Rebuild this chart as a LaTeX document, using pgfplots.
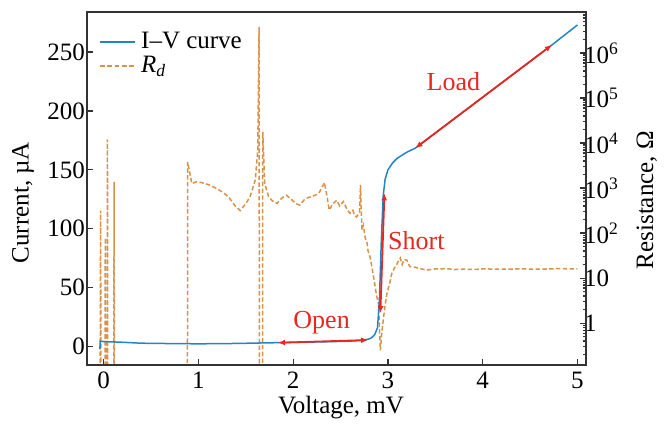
\documentclass[border=0pt]{standalone}
\usepackage{pgfplots}
\pgfplotsset{compat=1.18}
\usepackage{fontspec}
\setmainfont{Liberation Serif}
\usetikzlibrary{arrows.meta}

\definecolor{ivblue}{RGB}{35,132,198}
\definecolor{rdorange}{RGB}{216,146,74}
\definecolor{annred}{RGB}{232,40,30}

\pgfplotsset{
  every axis/.append style={
    scale only axis, width=249.5pt, height=176.5pt,
    xmin=-0.176, xmax=5.09,
    font=\fontsize{12.5}{15}\selectfont,
    /pgf/number format/assume math mode=true,
    axis line style={line width=0.8pt, black!80},
    tick style={line width=0.6pt, black!80},
    major tick length=3pt, minor tick length=1.7pt,
    tick align=inside,
  },
}

\begin{document}
\begin{tikzpicture}
% resistance, right log axis
\begin{axis}[
    axis y line*=right, axis x line=none,
    ymode=log, ymin=0.1175, ymax=8.13e6,
    ytick={1,10,100,1000,10000,100000,1000000},
    yticklabels={1,10,10\textsuperscript{2},10\textsuperscript{3},10\textsuperscript{4},10\textsuperscript{5},10\textsuperscript{6}},
    minor ytick={0.2,0.3,0.4,0.5,0.6,0.7,0.8,0.9,2,3,4,5,6,7,8,9,20,30,40,50,60,70,80,90,
      200,300,400,500,600,700,800,900,2000,3000,4000,5000,6000,7000,8000,9000,
      2e4,3e4,4e4,5e4,6e4,7e4,8e4,9e4,2e5,3e5,4e5,5e5,6e5,7e5,8e5,9e5,2e6,3e6,4e6,5e6,6e6,7e6,8e6},
    yticklabel style={xshift=-4.5pt},
    ylabel={Resistance, Ω},
    ylabel style={at={(axis description cs:1.122,0.467)}, rotate=0, anchor=center},
]
\addplot[rdorange, line width=0.75pt, dash pattern=on 2.2pt off 1.2pt] coordinates {
(-0.04,0.001) (-0.032,316) (-0.028,0.001) (0.013,0.001) (0.017,78) (0.021,0.001)
(0.036,0.001) (0.04,12000) (0.044,0.001) (0.106,0.001) (0.11,1380) (0.114,0.001)
(0.883,0.001) (0.887,3800) (0.93,1260) (0.98,1380) (1.035,1320) (1.10,1200)
(1.157,1070) (1.24,850) (1.316,646) (1.38,420) (1.44,316) (1.50,450) (1.545,646)
(1.60,1510) (1.626,6900) (1.64,3.8e6) (1.644,0.001) (1.675,0.001) (1.679,17800)
(1.70,1260) (1.74,646) (1.78,520) (1.83,457) (1.88,600) (1.93,692) (1.98,560)
(2.03,450) (2.07,417) (2.12,560) (2.16,620) (2.20,646) (2.27,760) (2.33,1320)
(2.36,600) (2.38,324) (2.42,450) (2.46,537) (2.49,400) (2.53,501) (2.57,330)
(2.60,275) (2.63,320) (2.65,240) (2.67,229) (2.70,300) (2.71,1175) (2.725,117)
(2.74,150) (2.76,79) (2.78,60) (2.79,40) (2.81,30) (2.83,18) (2.86,7.6) (2.88,4)
(2.90,2.75) (2.92,0.25) (2.935,0.6) (2.95,1.17) (2.97,2.5) (2.99,4.6) (3.02,8)
(3.04,12.6) (3.07,17) (3.09,19.5) (3.11,24) (3.13,28) (3.15,20) (3.17,26) (3.20,25)
(3.23,18) (3.27,17.8) (3.32,16.6) (3.41,15.1) (3.5,16) (3.62,16.2) (3.7,15.5)
(3.8,15.8) (3.9,15.5) (4.0,16) (4.2,15.8) (4.4,16) (4.6,15.8) (4.8,16.2) (5.0,16)
};
\end{axis}
% current, left axis
\begin{axis}[
    ymin=-15.7, ymax=284,
    xtick={0,1,2,3,4,5}, ytick={0,50,100,150,200,250},
    xtick pos=left, ytick pos=left,
    yticklabel style={xshift=2.5pt},
    xlabel={Voltage, mV}, ylabel={Current, µA},
    xlabel style={at={(axis description cs:0.509,-0.12)}, anchor=center},
    ylabel style={at={(axis description cs:-0.128,0.46)}, anchor=center},
    legend style={draw=none, fill=none, at={(0.012,0.958)}, anchor=north west,
      row sep=1pt, nodes={inner xsep=2.5pt, inner ysep=0.6pt},
      font=\fontsize{12.5}{15}\selectfont},
    legend cell align=left,
    legend image code/.code={\draw[#1] (0pt,0pt) -- (17.5pt,0pt);},
]
\addplot[ivblue, line width=0.75pt] coordinates {
(-0.04,-2) (-0.035,4.5) (0,4.2) (0.2,3.6) (0.4,2.8) (0.6,2.6) (0.8,2.4) (1.0,2.3)
(1.2,2.4) (1.4,2.6) (1.6,2.9) (1.8,3.2) (2.0,3.5) (2.2,3.8) (2.4,4.1) (2.6,4.6)
(2.75,5.3) (2.82,7) (2.86,10) (2.89,16) (2.91,40) (2.93,90) (2.95,128) (2.97,142)
(3.0,150) (3.05,156) (3.1,160) (3.2,165) (3.29,168.5) (4.73,256) (5.0,273)
};
\addlegendentry{I–V curve}
\addlegendimage{draw=rdorange, line width=0.9pt, dash pattern=on 2.4pt off 1.2pt}
\addlegendentry{\textit{R}\textsubscript{\textit{d}}}
% annotations
\addplot[annred, line width=0.9pt, {Latex[length=3.5pt,width=3pt]}-{Latex[length=3.5pt,width=3pt]}]
  coordinates {(1.84,3.2) (2.79,5.5)};
\addplot[annred, line width=0.9pt, {Latex[length=3.5pt,width=3pt]}-{Latex[length=3.5pt,width=3pt]}]
  coordinates {(2.92,28.4) (2.963,130)};
\addplot[annred, line width=0.9pt, {Latex[length=3.5pt,width=3pt]}-{Latex[length=3.5pt,width=3pt]}]
  coordinates {(3.29,168.5) (4.73,256)};
\node[annred, font=\fontsize{13}{15}\selectfont] at (axis cs:2.30,20) {Open};
\node[annred, font=\fontsize{13}{15}\selectfont] at (axis cs:3.30,90) {Short};
\node[annred, font=\fontsize{13}{15}\selectfont] at (axis cs:3.69,225) {Load};
\end{axis}
\pgfresetboundingbox
\useasboundingbox ([shift={(-43.5pt,-32.5pt)}]current axis.south west)
  rectangle ([shift={(43pt,6pt)}]current axis.north east);
\end{tikzpicture}
\end{document}
